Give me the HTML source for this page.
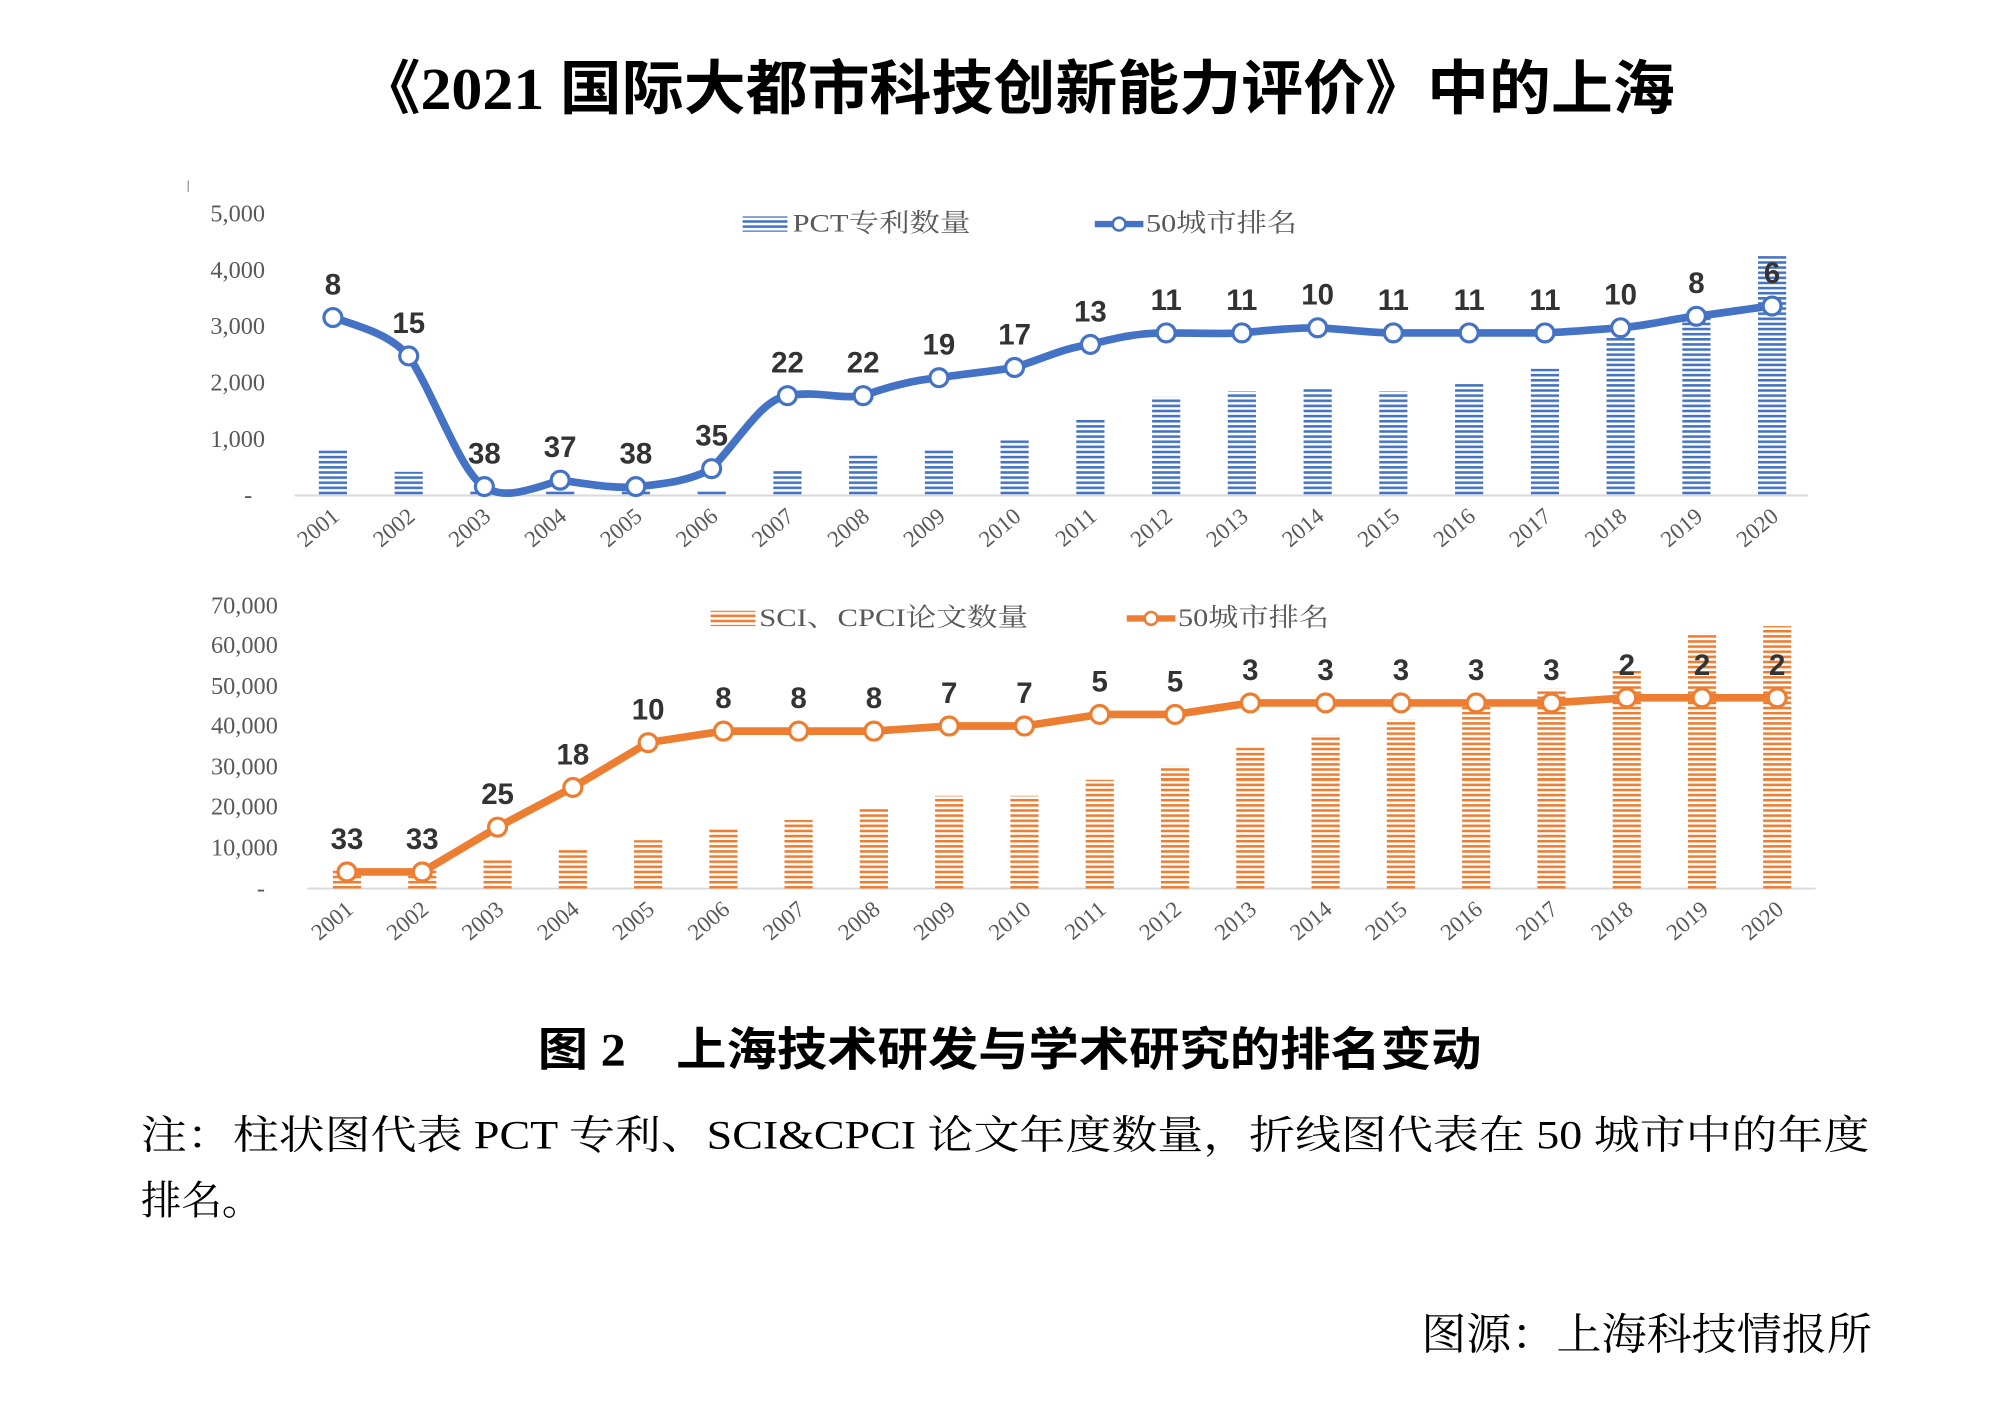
<!DOCTYPE html>
<html><head><meta charset="utf-8"><style>
html,body{margin:0;padding:0;background:#fff;}
svg{display:block;}
.ser{font-family:"Liberation Serif","Noto Serif CJK SC",serif;}
.yl{font-family:"Liberation Serif",serif;font-size:19px;fill:#595959;text-anchor:end;}
.yr{font-family:"Liberation Serif",serif;fill:#595959;text-anchor:end;}
.lb{font-family:"Liberation Sans Narrow","Liberation Sans",sans-serif;font-weight:bold;font-size:23px;fill:#333;text-anchor:middle;}
.lg{font-family:"Liberation Serif","Noto Serif CJK SC",serif;font-size:20px;fill:#595959;}
</style></head><body>
<svg width="2000" height="1411" viewBox="0 0 1562 1102" preserveAspectRatio="none" xmlns="http://www.w3.org/2000/svg">
<defs>
<pattern id="pb" width="6" height="4" patternUnits="userSpaceOnUse"><rect width="6" height="2" fill="#4472c4"/></pattern>
<pattern id="po" width="6" height="4" patternUnits="userSpaceOnUse"><rect width="6" height="2" fill="#ed7d31"/></pattern>
</defs>
<text x="280" y="85" font-family="'Liberation Serif','Noto Sans CJK SC',sans-serif" font-weight="bold" font-size="46" fill="#000" textLength="1028" lengthAdjust="spacingAndGlyphs">《2021 国际大都市科技创新能力评价》中的上海</text>

<!-- Chart 1 -->
<line x1="147" y1="141" x2="147" y2="150" stroke="#999"/>
<g class="yl"><text x="207" y="173">5,000</text><text x="207" y="217">4,000</text><text x="207" y="261">3,000</text><text x="207" y="305">2,000</text><text x="207" y="349">1,000</text><text x="197" y="393">-</text></g>
<line x1="230" y1="387" x2="1412" y2="387" stroke="#d9d9d9" stroke-width="1.5"/>
<g fill="url(#pb)">
<rect x="249" y="350.5" width="22" height="36.5"/><rect x="308.2" y="368.5" width="22" height="18.5"/><rect x="367.3" y="382.6" width="22" height="4.4"/><rect x="426.5" y="382.6" width="22" height="4.4"/><rect x="485.6" y="382.6" width="22" height="4.4"/><rect x="544.8" y="382.6" width="22" height="4.4"/><rect x="604" y="366.3" width="22" height="20.7"/><rect x="663.1" y="355" width="22" height="32"/><rect x="722.3" y="350.5" width="22" height="36.5"/><rect x="781.4" y="344" width="22" height="43"/><rect x="840.6" y="328" width="22" height="59"/><rect x="899.8" y="310" width="22" height="77"/><rect x="958.9" y="305.6" width="22" height="81.4"/><rect x="1018.1" y="303.4" width="22" height="83.6"/><rect x="1077.2" y="305.6" width="22" height="81.4"/><rect x="1136.4" y="299" width="22" height="88"/><rect x="1195.6" y="288" width="22" height="99"/><rect x="1254.7" y="264" width="22" height="123"/><rect x="1313.9" y="246" width="22" height="141"/><rect x="1373" y="200" width="22" height="187"/>
</g>
<path d="M260,248 C285,256 305,262 319.2,278 C340,310 360,370 378.3,380 C392,390 410,384 437.5,375 C460,378 480,382 496.6,380 C520,378 540,375 555.8,366 C580,340 595,312 615,309 C640,305 655,312 674.1,309 C700,300 715,297 733.3,295 C760,291 775,290 792.4,287 C815,280 830,272 851.6,269 C875,263 890,260 910.8,260 C935,260 950,261 969.9,260 C990,258 1010,256 1029.1,256 C1050,257 1070,260 1088.2,260 L1206.6,260 C1230,259 1250,257 1265.7,256 C1290,254 1305,249 1324.9,247 C1350,244 1365,241 1384,239" fill="none" stroke="#4472c4" stroke-width="6" stroke-linejoin="round"/>
<g fill="#fff" stroke="#4472c4" stroke-width="2.5">
<circle cx="260" cy="248" r="7"/><circle cx="319.2" cy="278" r="7"/><circle cx="378.3" cy="380" r="7"/><circle cx="437.5" cy="375" r="7"/><circle cx="496.6" cy="380" r="7"/><circle cx="555.8" cy="366" r="7"/><circle cx="615" cy="309" r="7"/><circle cx="674.1" cy="309" r="7"/><circle cx="733.3" cy="295" r="7"/><circle cx="792.4" cy="287" r="7"/><circle cx="851.6" cy="269" r="7"/><circle cx="910.8" cy="260" r="7"/><circle cx="969.9" cy="260" r="7"/><circle cx="1029.1" cy="256" r="7"/><circle cx="1088.2" cy="260" r="7"/><circle cx="1147.4" cy="260" r="7"/><circle cx="1206.6" cy="260" r="7"/><circle cx="1265.7" cy="256" r="7"/><circle cx="1324.9" cy="247" r="7"/><circle cx="1384" cy="239" r="7"/>
</g>
<g class="lb">
<text x="260" y="230">8</text><text x="319.2" y="260">15</text><text x="378.3" y="362">38</text><text x="437.5" y="357">37</text><text x="496.6" y="362">38</text><text x="555.8" y="348">35</text><text x="615" y="291">22</text><text x="674.1" y="291">22</text><text x="733.3" y="277">19</text><text x="792.4" y="269">17</text><text x="851.6" y="251">13</text><text x="910.8" y="242">11</text><text x="969.9" y="242">11</text><text x="1029.1" y="238">10</text><text x="1088.2" y="242">11</text><text x="1147.4" y="242">11</text><text x="1206.6" y="242">11</text><text x="1265.7" y="238">10</text><text x="1324.9" y="229">8</text><text x="1384" y="221">6</text>
</g>
<rect x="580" y="169" width="35" height="12" fill="url(#pb)"/>
<text class="lg" x="619" y="181" textLength="139" lengthAdjust="spacingAndGlyphs">PCT专利数量</text>
<line x1="855" y1="175" x2="893" y2="175" stroke="#4472c4" stroke-width="5"/>
<circle cx="874" cy="175" r="5" fill="#fff" stroke="#4472c4" stroke-width="2"/>
<text class="lg" x="895" y="181" textLength="118" lengthAdjust="spacingAndGlyphs">50城市排名</text>
<g class="yr" font-size="18">
<text transform="translate(266,405) rotate(-40)">2001</text><text transform="translate(325.2,405) rotate(-40)">2002</text><text transform="translate(384.3,405) rotate(-40)">2003</text><text transform="translate(443.5,405) rotate(-40)">2004</text><text transform="translate(502.6,405) rotate(-40)">2005</text><text transform="translate(561.8,405) rotate(-40)">2006</text><text transform="translate(621,405) rotate(-40)">2007</text><text transform="translate(680.1,405) rotate(-40)">2008</text><text transform="translate(739.3,405) rotate(-40)">2009</text><text transform="translate(798.4,405) rotate(-40)">2010</text><text transform="translate(857.6,405) rotate(-40)">2011</text><text transform="translate(916.8,405) rotate(-40)">2012</text><text transform="translate(975.9,405) rotate(-40)">2013</text><text transform="translate(1035.1,405) rotate(-40)">2014</text><text transform="translate(1094.2,405) rotate(-40)">2015</text><text transform="translate(1153.4,405) rotate(-40)">2016</text><text transform="translate(1212.6,405) rotate(-40)">2017</text><text transform="translate(1271.7,405) rotate(-40)">2018</text><text transform="translate(1330.9,405) rotate(-40)">2019</text><text transform="translate(1390,405) rotate(-40)">2020</text>
</g>

<!-- Chart 2 -->
<g class="yl"><text x="217" y="479">70,000</text><text x="217" y="510">60,000</text><text x="217" y="542">50,000</text><text x="217" y="573">40,000</text><text x="217" y="605">30,000</text><text x="217" y="636">20,000</text><text x="217" y="668">10,000</text><text x="207" y="700">-</text></g>
<line x1="240" y1="694" x2="1418" y2="694" stroke="#d9d9d9" stroke-width="1.5"/>
<g fill="url(#po)">
<rect x="260" y="678.2" width="22" height="15.8"/><rect x="318.8" y="678.2" width="22" height="15.8"/><rect x="377.6" y="672" width="22" height="22"/><rect x="436.4" y="662.5" width="22" height="31.5"/><rect x="495.2" y="656.2" width="22" height="37.8"/><rect x="554" y="646.7" width="22" height="47.3"/><rect x="612.7" y="640.4" width="22" height="53.6"/><rect x="671.5" y="631" width="22" height="63"/><rect x="730.3" y="621.5" width="22" height="72.5"/><rect x="789.1" y="621.5" width="22" height="72.5"/><rect x="847.9" y="609" width="22" height="85"/><rect x="906.7" y="598" width="22" height="96"/><rect x="965.5" y="584" width="22" height="110"/><rect x="1024.3" y="574" width="22" height="120"/><rect x="1083.1" y="562" width="22" height="132"/><rect x="1141.9" y="552" width="22" height="142"/><rect x="1200.7" y="538" width="22" height="156"/><rect x="1259.5" y="524" width="22" height="170"/><rect x="1318.3" y="496" width="22" height="198"/><rect x="1377" y="489" width="22" height="205"/>
</g>
<polyline points="271,681 329.8,681 388.6,646 447.4,615 506.2,580 565,571 623.7,571 682.5,571 741.3,567 800.1,567 858.9,558 917.7,558 976.5,549 1035.3,549 1094.1,549 1152.9,549 1211.7,549 1270.5,545 1329.3,545 1388,545" fill="none" stroke="#ed7d31" stroke-width="6" stroke-linejoin="round"/>
<g fill="#fff" stroke="#ed7d31" stroke-width="2.5">
<circle cx="271" cy="681" r="7"/><circle cx="329.8" cy="681" r="7"/><circle cx="388.6" cy="646" r="7"/><circle cx="447.4" cy="615" r="7"/><circle cx="506.2" cy="580" r="7"/><circle cx="565" cy="571" r="7"/><circle cx="623.7" cy="571" r="7"/><circle cx="682.5" cy="571" r="7"/><circle cx="741.3" cy="567" r="7"/><circle cx="800.1" cy="567" r="7"/><circle cx="858.9" cy="558" r="7"/><circle cx="917.7" cy="558" r="7"/><circle cx="976.5" cy="549" r="7"/><circle cx="1035.3" cy="549" r="7"/><circle cx="1094.1" cy="549" r="7"/><circle cx="1152.9" cy="549" r="7"/><circle cx="1211.7" cy="549" r="7"/><circle cx="1270.5" cy="545" r="7"/><circle cx="1329.3" cy="545" r="7"/><circle cx="1388" cy="545" r="7"/>
</g>
<g class="lb">
<text x="271" y="663">33</text><text x="329.8" y="663">33</text><text x="388.6" y="628">25</text><text x="447.4" y="597">18</text><text x="506.2" y="562">10</text><text x="565" y="553">8</text><text x="623.7" y="553">8</text><text x="682.5" y="553">8</text><text x="741.3" y="549">7</text><text x="800.1" y="549">7</text><text x="858.9" y="540">5</text><text x="917.7" y="540">5</text><text x="976.5" y="531">3</text><text x="1035.3" y="531">3</text><text x="1094.1" y="531">3</text><text x="1152.9" y="531">3</text><text x="1211.7" y="531">3</text><text x="1270.5" y="527">2</text><text x="1329.3" y="527">2</text><text x="1388" y="527">2</text>
</g>
<rect x="555" y="477" width="35" height="12" fill="url(#po)"/>
<text class="lg" x="593" y="489" textLength="210" lengthAdjust="spacingAndGlyphs">SCI、CPCI论文数量</text>
<line x1="880" y1="483" x2="918" y2="483" stroke="#ed7d31" stroke-width="5"/>
<circle cx="899" cy="483" r="5" fill="#fff" stroke="#ed7d31" stroke-width="2"/>
<text class="lg" x="920" y="489" textLength="118" lengthAdjust="spacingAndGlyphs">50城市排名</text>
<g class="yr" font-size="18">
<text transform="translate(277,712) rotate(-40)">2001</text><text transform="translate(335.8,712) rotate(-40)">2002</text><text transform="translate(394.6,712) rotate(-40)">2003</text><text transform="translate(453.4,712) rotate(-40)">2004</text><text transform="translate(512.2,712) rotate(-40)">2005</text><text transform="translate(571,712) rotate(-40)">2006</text><text transform="translate(629.7,712) rotate(-40)">2007</text><text transform="translate(688.5,712) rotate(-40)">2008</text><text transform="translate(747.3,712) rotate(-40)">2009</text><text transform="translate(806.1,712) rotate(-40)">2010</text><text transform="translate(864.9,712) rotate(-40)">2011</text><text transform="translate(923.7,712) rotate(-40)">2012</text><text transform="translate(982.5,712) rotate(-40)">2013</text><text transform="translate(1041.3,712) rotate(-40)">2014</text><text transform="translate(1100.1,712) rotate(-40)">2015</text><text transform="translate(1158.9,712) rotate(-40)">2016</text><text transform="translate(1217.7,712) rotate(-40)">2017</text><text transform="translate(1276.5,712) rotate(-40)">2018</text><text transform="translate(1335.3,712) rotate(-40)">2019</text><text transform="translate(1394,712) rotate(-40)">2020</text>
</g>

<text x="420" y="832" font-family="'Liberation Serif','Noto Sans CJK SC',sans-serif" font-weight="bold" font-size="36" fill="#000" textLength="737" lengthAdjust="spacingAndGlyphs">图 2　上海技术研发与学术研究的排名变动</text>
<text class="ser" x="110" y="897" font-size="31" fill="#000" textLength="1350" lengthAdjust="spacingAndGlyphs">注：柱状图代表 PCT 专利、SCI&amp;CPCI 论文年度数量，折线图代表在 50 城市中的年度</text>
<text class="ser" x="110" y="948" font-size="31" fill="#000" textLength="95" lengthAdjust="spacingAndGlyphs">排名。</text>
<text class="ser" x="1110" y="1054" font-size="34" fill="#000" textLength="352" lengthAdjust="spacingAndGlyphs">图源：上海科技情报所</text>
</svg>
</body></html>
